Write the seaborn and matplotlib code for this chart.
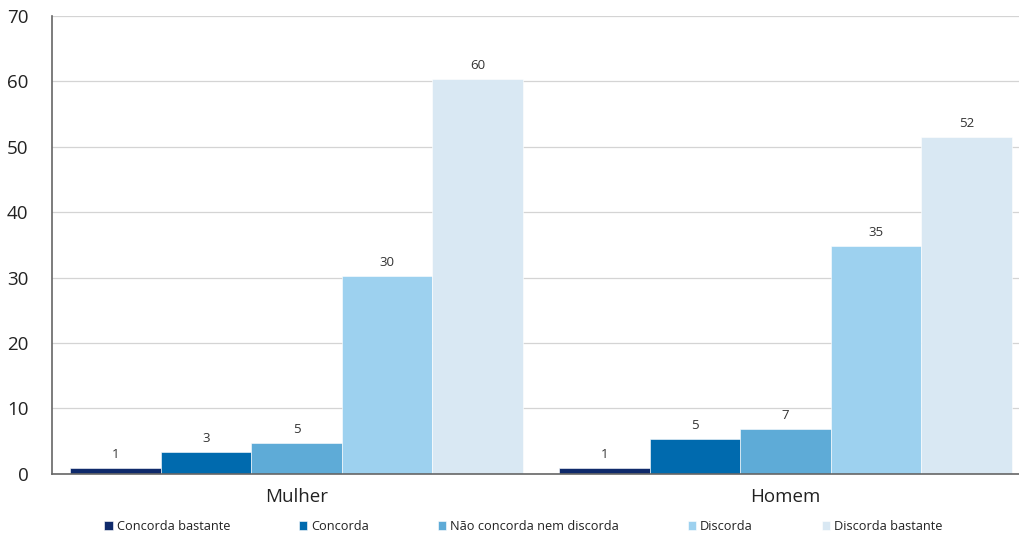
import pandas as pd
import matplotlib
matplotlib.use("Agg")
import matplotlib.pyplot as plt
import seaborn as sns

# values
groups = ["Mulher", "Homem"]
answers = ["Concorda bastante", "Concorda", "Não concorda nem discorda",
           "Discorda", "Discorda bastante"]
mulher = [0.9, 3.4, 4.7, 30.3, 60.4]
homem = [0.9, 5.4, 6.9, 34.9, 51.5]
colors = ["#0f2a6b", "#006aae", "#5eabd7", "#9dd1ef", "#d9e8f3"]
y_ticks = [0, 10, 20, 30, 40, 50, 60, 70]

df = pd.DataFrame({
    "grupo": [g for g in groups for _ in answers],
    "resposta": answers * len(groups),
    "valor": mulher + homem,
})

sns.set_theme(style="white")
plt.rcParams["font.family"] = ["Open Sans", "DejaVu Sans"]

fig = plt.figure(figsize=(10.2, 5.33), dpi=100)
ax = fig.add_axes([0.051, 0.111, 0.959, 0.859])

sns.barplot(data=df, x="grupo", y="valor", hue="resposta", hue_order=answers,
            order=groups, palette=colors, width=0.925, saturation=1,
            edgecolor="white", linewidth=0.4, ax=ax)

for c in ax.containers:
    ax.bar_label(c, fmt="%.0f", padding=5, fontsize=9.5, color="#333333")

ax.set_ylim(0, 70)
ax.set_yticks(y_ticks)
ax.yaxis.grid(True, color="#d4d4d4", linewidth=0.9)
ax.set_axisbelow(True)
ax.tick_params(axis="y", length=0, pad=17, labelsize=13.5, labelcolor="#222222")
ax.tick_params(axis="x", length=0, pad=10, labelsize=13.5, labelcolor="#222222")
ax.set_xlabel("")
ax.set_ylabel("")
for side in ["top", "right"]:
    ax.spines[side].set_visible(False)
for side in ["left", "bottom"]:
    ax.spines[side].set_color("#666666")
    ax.spines[side].set_linewidth(1.2)

handles, labels = ax.get_legend_handles_labels()
ax.get_legend().remove()
fig.legend(handles, labels, loc="lower center", bbox_to_anchor=(0.513, -0.022),
           ncol=5, frameon=False, fontsize=9.2, handlelength=0.65, handleheight=0.65,
           handletextpad=0.3, columnspacing=5.4, labelcolor="#222222")

fig.savefig("out.png", dpi=100)
